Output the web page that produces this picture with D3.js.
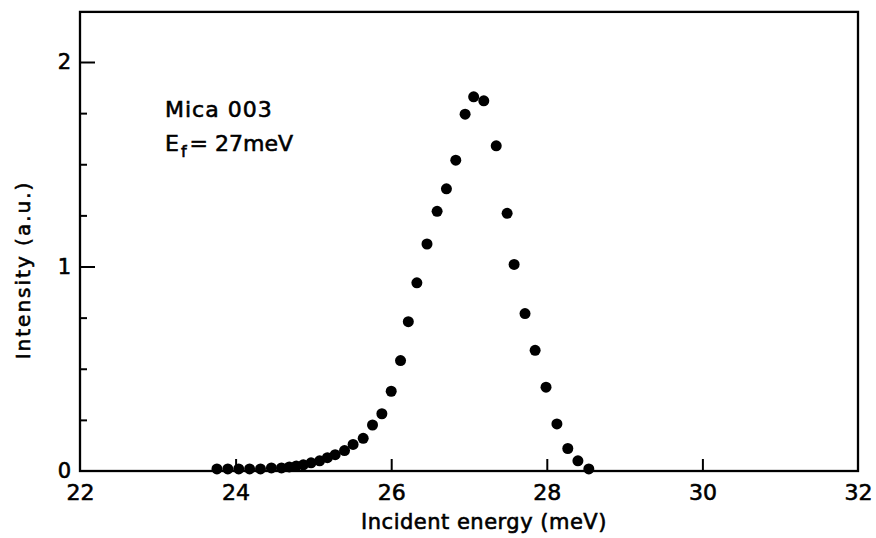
<!DOCTYPE html>
<html>
<head>
<meta charset="utf-8">
<script src="https://cdn.jsdelivr.net/npm/d3@7"></script>
<style>
  body { margin: 0; background: #fff; }
  text { font-family: "DejaVu Sans", sans-serif; fill: #000; stroke: #000; stroke-width: 0.6px; }
</style>
</head>
<body>
<svg id="chart"></svg>
<script>
// incident energy (meV) and intensity (a.u.)
let energy = [23.76, 23.90, 24.04, 24.18, 24.32, 24.46, 24.59, 24.69, 24.78, 24.87,
              24.97, 25.08, 25.18, 25.28, 25.40, 25.51, 25.64, 25.76, 25.88, 26.00,
              26.12, 26.22, 26.33, 26.46, 26.59, 26.71, 26.83, 26.95, 27.06, 27.19,
              27.35, 27.49, 27.58, 27.72, 27.85, 27.99, 28.13, 28.27, 28.40, 28.54];
let intensity = [0.01, 0.01, 0.01, 0.01, 0.01, 0.015, 0.015, 0.02, 0.025, 0.03,
                 0.04, 0.05, 0.065, 0.08, 0.10, 0.13, 0.16, 0.225, 0.28, 0.39,
                 0.54, 0.73, 0.92, 1.11, 1.27, 1.38, 1.52, 1.745, 1.83, 1.81,
                 1.59, 1.26, 1.01, 0.77, 0.59, 0.41, 0.23, 0.11, 0.05, 0.01];

let xTicks = [22, 24, 26, 28, 30, 32];
let yTicks = [0, 1, 2];
let yMinor = [0.25, 0.5, 0.75, 1.25, 1.5, 1.75];

function makeChart() {
    let w = 876;
    let h = 538;

    let svg = d3.select('#chart')
        .attr('width', w)
        .attr('height', h);

    let xScale = d3.scaleLinear()
        .domain([22, 32])
        .range([80, 858]);

    let yScale = d3.scaleLinear()
        .domain([0, 2])
        .range([471, 62]);

    let top = yScale(2.245);

    // tick labels
    let xLabels = svg.append('g')
        .attr('transform', `translate(0, ${yScale(0)})`)
        .call(d3.axisBottom(xScale).tickValues(xTicks).tickSize(0).tickPadding(13).tickFormat(d3.format('d')));
    xLabels.select('.domain').remove();
    xLabels.selectAll('text')
        .style('font-size', '22px')
        .style('font-family', '"DejaVu Sans", sans-serif');

    let yLabels = svg.append('g')
        .attr('transform', `translate(${xScale(22)}, 0)`)
        .call(d3.axisLeft(yScale).tickValues(yTicks).tickSize(0).tickPadding(9).tickFormat(d3.format('d')));
    yLabels.select('.domain').remove();
    yLabels.selectAll('text')
        .style('font-size', '21px')
        .style('font-family', '"DejaVu Sans", sans-serif');

    // inward ticks
    let yMajor = svg.append('g')
        .attr('transform', `translate(${xScale(22)}, 0)`)
        .call(d3.axisRight(yScale).tickValues([1, 2]).tickSize(15).tickFormat(''));
    let yMin = svg.append('g')
        .attr('transform', `translate(${xScale(22)}, 0)`)
        .call(d3.axisRight(yScale).tickValues(yMinor).tickSize(7).tickFormat(''));
    let xMajor = svg.append('g')
        .attr('transform', `translate(0, ${yScale(0)})`)
        .call(d3.axisTop(xScale).tickValues([24, 26, 28, 30]).tickSize(12).tickFormat(''));
    [yMajor, yMin, xMajor].forEach(g => {
        g.select('.domain').remove();
        g.selectAll('line').attr('stroke', '#000').attr('stroke-width', 2);
    });

    // frame
    svg.append('rect')
        .attr('x', xScale(22))
        .attr('y', top)
        .attr('width', xScale(32) - xScale(22))
        .attr('height', yScale(0) - top)
        .attr('fill', 'none')
        .attr('stroke', '#000')
        .attr('stroke-width', 2.3);

    // data points
    let data = energy.map((e, i) => ({ e: e, v: intensity[i] }));
    svg.append('g')
        .selectAll('circle')
        .data(data)
        .enter()
        .append('circle')
        .attr('cx', d => xScale(d.e))
        .attr('cy', d => yScale(d.v))
        .attr('r', 5.5)
        .attr('fill', '#000');

    // axis titles
    svg.append('text')
        .attr('x', 484)
        .attr('y', 529)
        .attr('text-anchor', 'middle')
        .style('font-size', '21px')
        .style('letter-spacing', '0.5px')
        .text('Incident energy (meV)');

    svg.append('text')
        .attr('transform', 'translate(30, 270) rotate(-90)')
        .attr('text-anchor', 'middle')
        .style('font-size', '20px')
        .style('letter-spacing', '2px')
        .text('Intensity (a.u.)');

    // annotation
    svg.append('text')
        .attr('x', 165)
        .attr('y', 117)
        .style('font-size', '22px')
        .style('letter-spacing', '1px')
        .text('Mica 003');

    let ef = svg.append('text')
        .attr('x', 165)
        .attr('y', 151)
        .style('font-size', '22px');
    ef.append('tspan').text('E');
    ef.append('tspan').attr('dy', 6).attr('dx', 2).style('font-size', '16px').text('f');
    ef.append('tspan').attr('dy', -6).attr('dx', 3).text('= 27meV');
}

makeChart();
</script>
</body>
</html>
